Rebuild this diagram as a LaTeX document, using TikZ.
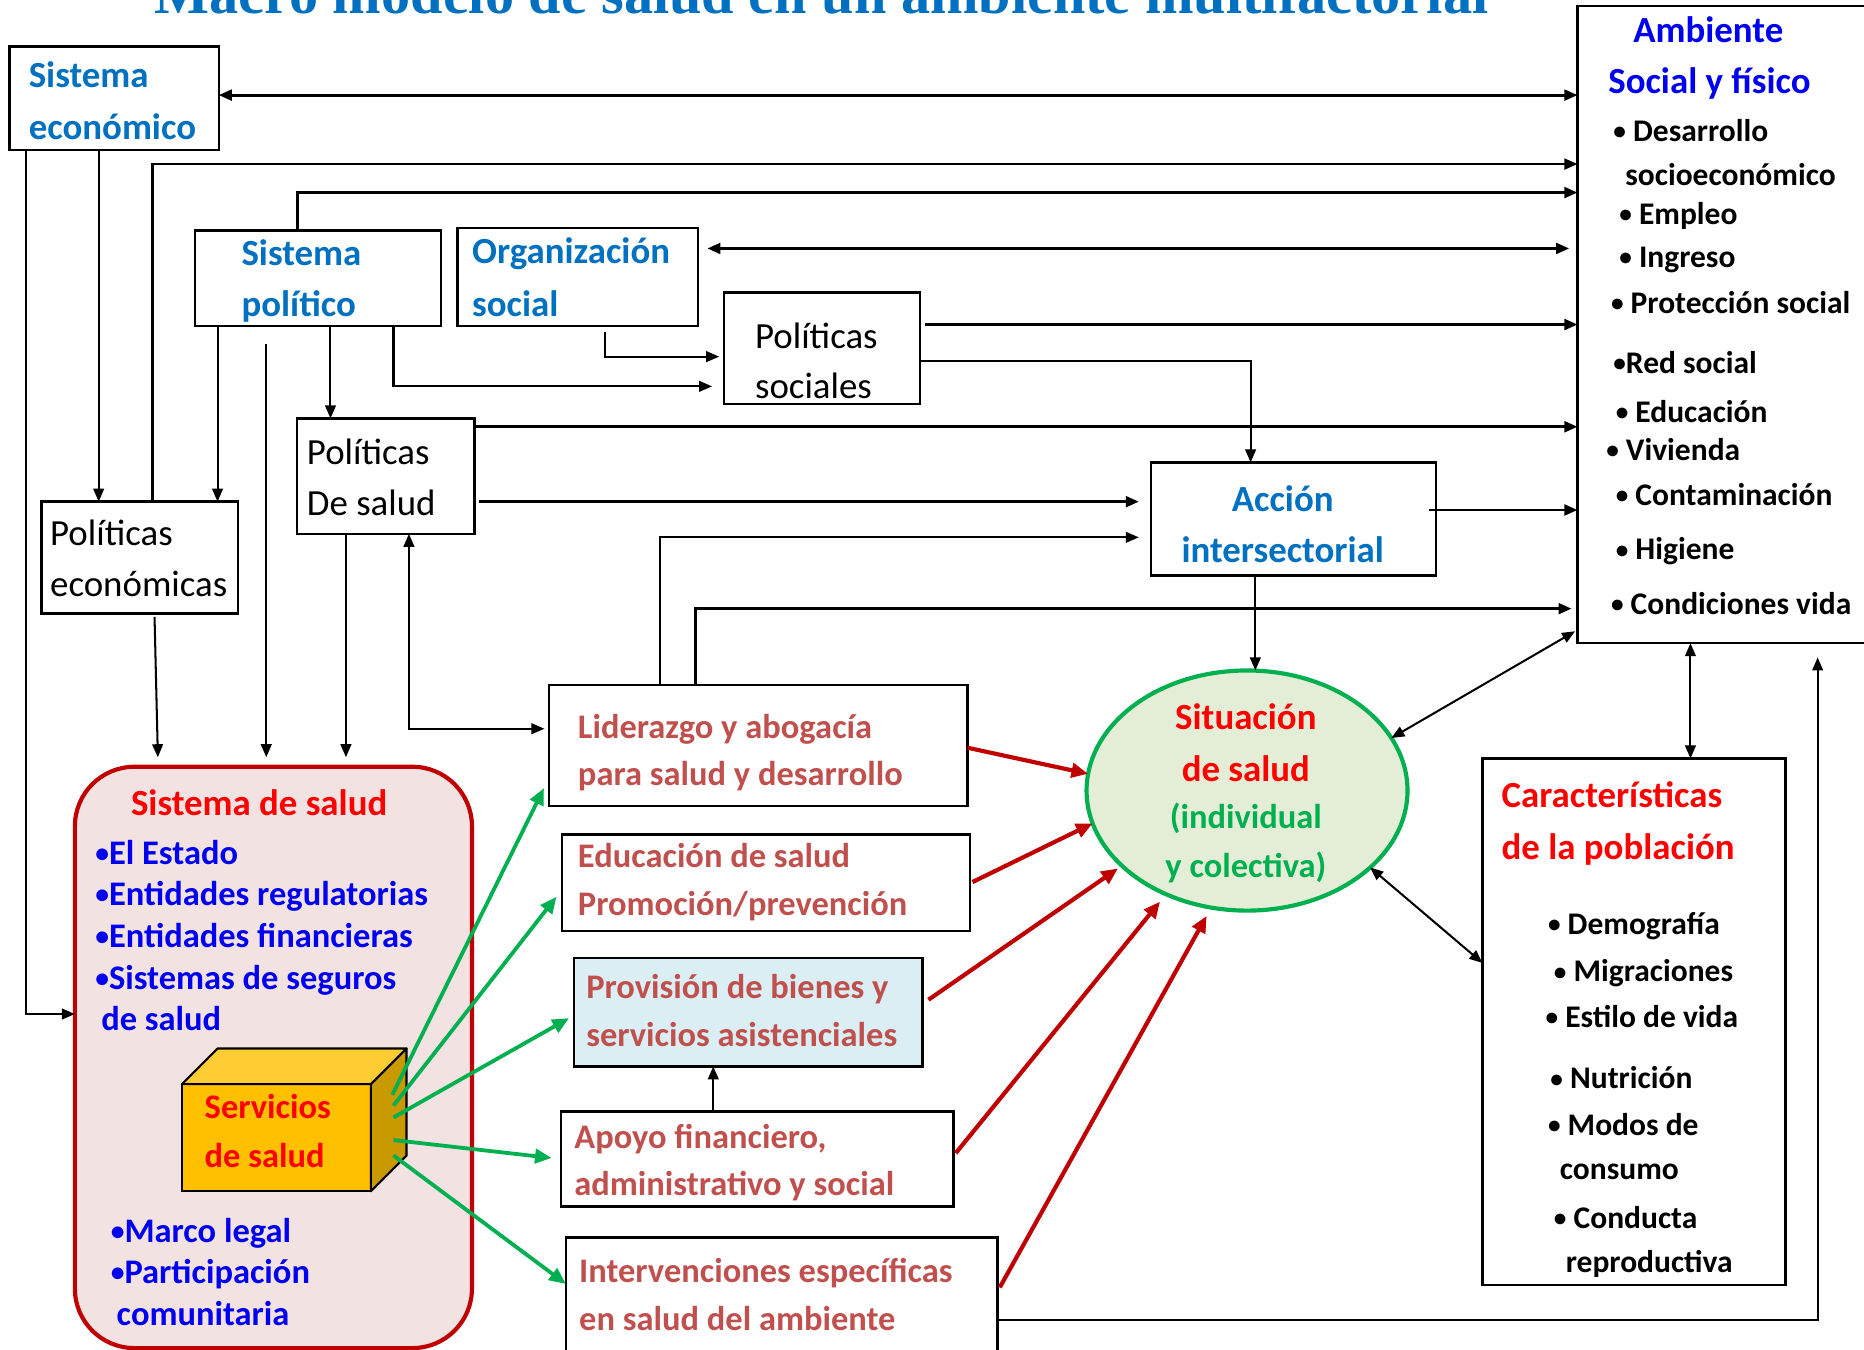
\documentclass[tikz,border=0pt]{standalone}
\usepackage{fontspec}
\usepackage{graphicx}
\setmainfont{Carlito}
\newfontfamily\titlefont{Liberation Serif}
\usetikzlibrary{arrows.meta,calc,shapes.geometric}
\definecolor{blueA}{HTML}{0070C0}
\definecolor{blueB}{HTML}{0000F0}
\definecolor{redH}{HTML}{FF0000}
\definecolor{redT}{HTML}{C0504D}
\definecolor{darkred}{HTML}{C00000}
\definecolor{greenA}{HTML}{00B050}
\definecolor{ellfill}{HTML}{E4EED6}
\definecolor{ssfill}{HTML}{F2E2E1}
\definecolor{profill}{HTML}{DAEEF3}
\definecolor{cubefront}{HTML}{FFC000}
\definecolor{cubetop}{HTML}{FFCC33}
\definecolor{cubeside}{HTML}{C99A00}
\newcommand\bul{\raisebox{0.06em}{\scalebox{0.8}{•}}}
\begin{document}
\begin{tikzpicture}[x=1pt,y=-1pt,
  >={Triangle[length=11pt,width=9pt]},
  box/.style={draw, line width=2pt, anchor=north west, inner sep=0, outer sep=0},
  conn/.style={line width=1.7pt},
  connH/.style={line width=2.4pt},
  rarr/.style={draw=darkred, line width=3.5pt, -{Triangle[length=14pt,width=12pt]}},
  garr/.style={draw=greenA, line width=3.2pt, -{Triangle[length=14pt,width=12pt]}},
  tl/.style={anchor=base west, inner sep=0},
  tcn/.style={anchor=base, inner sep=0},
  fA/.style={font=\fontsize{31}{31}\selectfont\bfseries},
  fR/.style={font=\fontsize{31}{31}\selectfont},
  fB/.style={font=\fontsize{29}{29}\selectfont\bfseries},
  fC/.style={font=\fontsize{26.5}{26.5}\selectfont\bfseries}
]
\useasboundingbox (0,0) rectangle (1568,1135);
\clip (0,0) rectangle (1568,1135);

% title (cut off at the top, as in the reference)
\node[tcn, text=blueA, font=\titlefont\bfseries\fontsize{49}{49}\selectfont] (TTL) at (691,11) {Macro modelo de salud en un ambiente multifactorial};

% boxes
\node[box, minimum width=176pt, minimum height=87pt] (SE) at (8,39) {};
\node[box, minimum width=207pt, minimum height=80pt] (SP) at (164,194) {};
\node[box, minimum width=202pt, minimum height=82pt] (OS) at (385,192) {};
\node[box, minimum width=165pt, minimum height=94pt] (PS) at (609,246) {};
\node[box, minimum width=149pt, minimum height=97pt] (PdS) at (250,352) {};
\node[box, minimum width=165pt, minimum height=94pt] (PE) at (35,422) {};
\node[box, minimum width=240pt, minimum height=95pt] (AI) at (968,389) {};
\node[box, minimum width=260pt, minimum height=536pt] (AMB) at (1327,5) {};
\node[box, minimum width=352pt, minimum height=102pt] (LID) at (462,576) {};
\node[box, minimum width=343pt, minimum height=81pt] (EDU) at (473,702) {};
\node[box, fill=profill, minimum width=293pt, minimum height=91pt] (PRO) at (483,806) {};
\node[box, minimum width=330pt, minimum height=80pt] (APO) at (472,935) {};
\node[box, minimum width=363pt, minimum height=110pt] (INT) at (476,1041) {};
\node[box, minimum width=255pt, minimum height=443pt] (CAR) at (1247,638) {};
\node[box, draw=darkred, fill=ssfill, line width=3.5pt, rounded corners=50pt, minimum width=334pt, minimum height=489pt] (SS) at (63,645) {};
\node[ellipse, draw=greenA, fill=ellfill, line width=3.5pt, minimum width=270pt, minimum height=202pt, inner sep=0, outer sep=0] (SIT) at (1049,665) {};

% cube
\node[box, fill=cubefront, line width=1.8pt, minimum width=159pt, minimum height=90pt] (SRV) at (153,912) {};
\draw[line width=1.8pt, fill=cubetop, line join=round] (SRV.north west) -- ++(30,-30) -- ++(159,0) -- (SRV.north east) -- cycle;
\draw[line width=1.8pt, fill=cubeside, line join=round] (SRV.north east) -- ++(30,-30) -- ++(0,90) -- (SRV.south east) -- cycle;

% black connectors
\draw[connH,<->] (SE.east |- 0,80) -- (AMB.west |- 0,80);
\draw[conn,->] (SE.south -| 83,0) -- (PE.north -| 83,0);
\draw[conn,->] (SE.south -| 22,0) |- (SS.west |- 0,853);
\draw[connH,->] (PE.north -| 128,0) |- (AMB.west |- 0,138);
\draw[connH,->] (SP.north -| 250,0) |- (AMB.west |- 0,162);
\draw[connH,<->, shorten <=8pt, shorten >=7pt] (OS.east |- 0,209) -- (AMB.west |- 0,209);
\draw[conn,->] (SP.south -| 183,0) -- (PE.north -| 183,0);
\draw[conn,->, shorten >=8pt] ($(SP.south -| 224,0)+(0,15)$) -- (SS.north -| 224,0);
\draw[conn,->] (SP.south -| 278,0) -- (PdS.north -| 278,0);
\draw[conn,->, shorten >=10pt] (SP.south -| 331,0) |- (PS.west |- 0,325);
\draw[conn,->, shorten >=4pt] ($(OS.south -| 509,0)+(0,5)$) |- (PS.west |- 0,300);
\draw[connH,->] ($(PS.east |- 0,273)+(4,0)$) -- (AMB.west |- 0,273);
\draw[conn,->] (PS.east |- 0,304) -| (AI.north -| 1052,0);
\draw[connH,->] (PdS.east |- 0,359) -- (AMB.west |- 0,359);
\draw[connH,->, shorten >=10pt] ($(PdS.east |- 0,422)+(4,0)$) -- (AI.west |- 0,422);
\draw[conn,->, shorten >=8pt] ($(PE.south -| 130,0)+(0,3)$) -- (SS.north -| 133,0);
\draw[conn,->, shorten >=8pt] (PdS.south -| 291,0) -- (SS.north -| 291,0);
\draw[conn,<->, shorten >=4pt] (PdS.south -| 344,0) |- (LID.west |- 0,613);
\draw[conn,->, shorten >=10pt] (LID.north -| 555,0) |- (AI.west |- 0,452);
\draw[connH,->, shorten >=5pt] (LID.north -| 585,0) |- (AMB.west |- 0,512);
\draw[connH,->] ($(AI.east |- 0,429)+(-6,0)$) -- (AMB.west |- 0,429);
\draw[conn,->] (AI.south -| 1056,0) -- (SIT.north -| 1056,0);
\draw[conn,<->] ($(AMB.south west)+(-2,-10)$) -- (SIT.20);
\draw[conn,<->] (AMB.south -| 1422,0) -- (CAR.north -| 1422,0);
\draw[conn,<->] (SIT.-32) -- (CAR.west |- 0,810);
\draw[conn,->, shorten >=12pt] (INT.east |- 0,1110) -| (AMB.south -| 1529,0);
\draw[conn,->] (APO.north -| 600,0) -- (PRO.south -| 600,0);

% red arrows
\draw[rarr] (LID.east |- 0,629) -- (SIT.174);
\draw[rarr] ($(EDU.east |- 0,742)+(2,0)$) -- (SIT.-168);
\draw[rarr, shorten >=4pt] ($(PRO.east |- 0,841)+(5,0)$) -- (SIT.-149);
\draw[rarr, shorten >=8pt] ($(APO.east |- 0,970)+(2,0)$) -- (SIT.-128);
\draw[rarr, shorten >=8pt] ($(INT.east |- 0,1083)+(2,0)$) -- (SIT.-107);

% green arrows
\draw[garr, shorten >=10pt] ($(SRV.north east)+(18,9)$) -- (LID.west |- 0,654);
\draw[garr, shorten >=8pt] ($(SRV.north east)+(19,18)$) -- (EDU.west |- 0,748);
\draw[garr, shorten >=5pt] ($(SRV.north east)+(19,28)$) -- (PRO.west |- 0,854);
\draw[garr, shorten >=8pt] ($(SRV.north east)+(19,47)$) -- (APO.west |- 0,975);
\draw[garr] ($(SRV.north east)+(19,60)$) -- (INT.west |- 0,1080);

% texts
\node[tl, fA, text=blueA] (SEa) at (24,74) {Sistema};
\node[tl, fA, text=blueA] (SEb) at (24,117) {económico};
\node[tl, fA, text=blueA] (SPa) at (203,223) {Sistema};
\node[tl, fA, text=blueA] (SPb) at (203,266) {político};
\node[tl, fA, text=blueA] (OSa) at (397,222) {Organización};
\node[tl, fA, text=blueA] (OSb) at (397,266) {social};
\node[tl, fR] (PSa) at (635,293) {Políticas};
\node[tl, fR] (PSb) at (635,335) {sociales};
\node[tl, fR] (PdSa) at (258,391) {Políticas};
\node[tl, fR] (PdSb) at (258,434) {De salud};
\node[tl, fR] (PEa) at (42,459) {Políticas};
\node[tl, fR] (PEb) at (42,502) {económicas};
\node[tcn, fA, text=blueA] (AIa) at (1079,430) {Acción};
\node[tcn, fA, text=blueA] (AIb) at (1079,473) {intersectorial};

\node[tcn, fA, text=blueB] (AMBa) at (1437,36) {Ambiente};
\node[tcn, fA, text=blueB] (AMBb) at (1438,79) {Social y físico};
\node[tl, fC] (AM1) at (1357,119) {\bul\ Desarrollo};
\node[tl, fC] (AM2) at (1367,156) {socioeconómico};
\node[tl, fC] (AM3) at (1362,189) {\bul\ Empleo};
\node[tl, fC] (AM4) at (1362,225) {\bul\ Ingreso};
\node[tl, fC] (AM5) at (1355,264) {\bul\ Protección social};
\node[tl, fC] (AM6) at (1357,314) {\bul Red social};
\node[tl, fC] (AM7) at (1359,355) {\bul\ Educación};
\node[tl, fC] (AM8) at (1351,387) {\bul\ Vivienda};
\node[tl, fC] (AM9) at (1359,425) {\bul\ Contaminación};
\node[tl, fC] (AM10) at (1359,471) {\bul\ Higiene};
\node[tl, fC] (AM11) at (1355,517) {\bul\ Condiciones vida};

\node[tl, fA, text=redH] (SSh) at (110,686) {Sistema de salud};
\node[tl, fB, text=blueB] (SS1) at (80,727) {\bul El Estado};
\node[tl, fB, text=blueB] (SS2) at (80,762) {\bul Entidades regulatorias};
\node[tl, fB, text=blueB] (SS3) at (80,797) {\bul Entidades financieras};
\node[tl, fB, text=blueB] (SS4) at (80,832) {\bul Sistemas de seguros};
\node[tl, fB, text=blueB] (SS5) at (85,867) {de salud};
\node[tl, fB, text=blueB] (SS6) at (93,1045) {\bul Marco legal};
\node[tl, fB, text=blueB] (SS7) at (93,1080) {\bul Participación};
\node[tl, fB, text=blueB] (SS8) at (98,1115) {comunitaria};
\node[tl, fB, text=redH] (SRVa) at (172,941) {Servicios};
\node[tl, fB, text=redH] (SRVb) at (172,982) {de salud};

\node[tl, fB, text=redT] (LIDa) at (486,621) {Liderazgo y abogacía};
\node[tl, fB, text=redT] (LIDb) at (486,661) {para salud y desarrollo};
\node[tl, fB, text=redT] (EDUa) at (486,730) {Educación de salud};
\node[tl, fB, text=redT] (EDUb) at (486,770) {Promoción/prevención};
\node[tl, fB, text=redT] (PROa) at (493,840) {Provisión de bienes y};
\node[tl, fB, text=redT] (PROb) at (493,880) {servicios asistenciales};
\node[tl, fB, text=redT] (APOa) at (483,966) {Apoyo financiero,};
\node[tl, fB, text=redT] (APOb) at (483,1006) {administrativo y social};
\node[tl, fB, text=redT] (INTa) at (487,1079) {Intervenciones específicas};
\node[tl, fB, text=redT] (INTb) at (487,1119) {en salud del ambiente};

\node[tcn, fA, text=redH] (SITa) at (1048,614) {Situación};
\node[tcn, fA, text=redH] (SITb) at (1048,657) {de salud};
\node[tcn, fB, text=greenA] (SITc) at (1048,697) {(individual};
\node[tcn, fB, text=greenA] (SITd) at (1048,738) {y colectiva)};

\node[tl, fA, text=redH] (CARa) at (1263,679) {Características};
\node[tl, fA, text=redH] (CARb) at (1263,723) {de la población};
\node[tl, fC] (CA1) at (1302,786) {\bul\ Demografía};
\node[tl, fC] (CA2) at (1307,826) {\bul\ Migraciones};
\node[tl, fC] (CA3) at (1300,864) {\bul\ Estilo de vida};
\node[tl, fC] (CA4) at (1304,916) {\bul\ Nutrición};
\node[tl, fC] (CA5) at (1302,955) {\bul\ Modos de};
\node[tl, fC] (CA6) at (1312,992) {consumo};
\node[tl, fC] (CA7) at (1307,1033) {\bul\ Conducta};
\node[tl, fC] (CA8) at (1317,1070) {reproductiva};
\end{tikzpicture}
\end{document}
